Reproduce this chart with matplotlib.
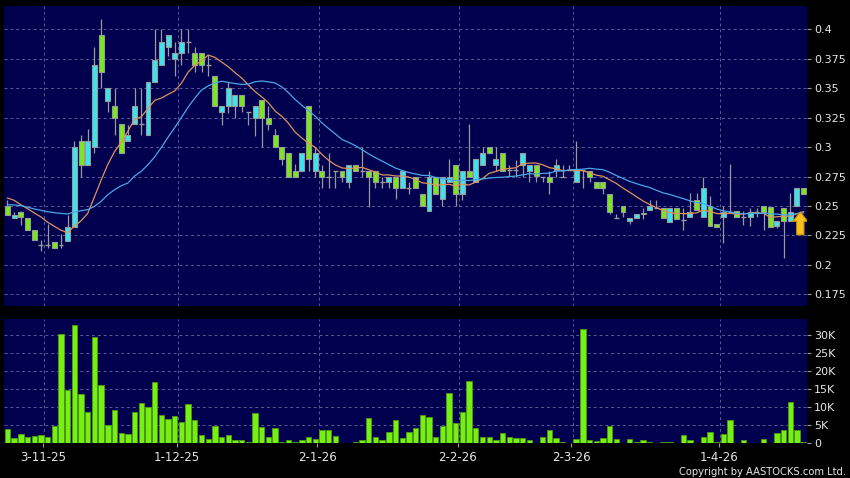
import matplotlib.pyplot as plt
import numpy as np
import pandas as pd
from matplotlib.patches import Rectangle, FancyArrow

# daily candles, oldest first (prices in HKD)
opens = [0.250, 0.240, 0.245, 0.2395, 0.230, 0.2167, 0.2172, 0.2198, 0.2172, 0.2206,
         0.232, 0.305, 0.2845, 0.300, 0.395, 0.3395, 0.3345, 0.3195, 0.3054, 0.3195,
         0.3195, 0.310, 0.355, 0.370, 0.385, 0.3745, 0.3796, 0.3895, 0.3796, 0.3796,
         0.370, 0.360, 0.3297, 0.3345, 0.3345, 0.3446, 0.3297, 0.3246, 0.340, 0.3246,
         0.310, 0.300, 0.295, 0.2794, 0.2794, 0.335, 0.2794, 0.2794, 0.2749, 0.2797,
         0.2797, 0.2704, 0.2845, 0.2797, 0.2797, 0.2797, 0.2704, 0.2704, 0.2749, 0.2655,
         0.2654, 0.2744, 0.2604, 0.2458, 0.2744, 0.2556, 0.2702, 0.2845, 0.2604, 0.2795,
         0.2702, 0.2845, 0.300, 0.2845, 0.2949, 0.2805, 0.2805, 0.2845, 0.2795, 0.2845,
         0.275, 0.2744, 0.2803, 0.275, 0.2803, 0.2704, 0.2803, 0.2794, 0.2704, 0.2704,
         0.2603, 0.240, 0.2498, 0.2371, 0.240, 0.2428, 0.247, 0.2484, 0.2484, 0.2366,
         0.2484, 0.2384, 0.2407, 0.255, 0.2407, 0.250, 0.2347, 0.2407, 0.245, 0.2456,
         0.2407, 0.2407, 0.245, 0.250, 0.2493, 0.2333, 0.2479, 0.2376, 0.2504, 0.265]
highs = [0.255, 0.245, 0.246, 0.2395, 0.230, 0.2215, 0.2347, 0.2198, 0.2265, 0.2426,
         0.3048, 0.3105, 0.315, 0.385, 0.409, 0.350, 0.350, 0.3195, 0.319, 0.350,
         0.350, 0.355, 0.400, 0.400, 0.395, 0.3895, 0.400, 0.400, 0.3847, 0.380,
         0.378, 0.360, 0.3345, 0.3556, 0.3446, 0.3446, 0.3297, 0.3345, 0.340, 0.3345,
         0.3155, 0.300, 0.295, 0.2853, 0.295, 0.335, 0.300, 0.285, 0.2953, 0.2797,
         0.2797, 0.2845, 0.2845, 0.300, 0.2797, 0.2797, 0.2749, 0.2749, 0.2749, 0.2797,
         0.270, 0.2744, 0.2604, 0.2795, 0.2744, 0.2744, 0.2899, 0.2845, 0.2795, 0.320,
         0.290, 0.300, 0.300, 0.300, 0.2949, 0.2845, 0.289, 0.2949, 0.2845, 0.2845,
         0.275, 0.2794, 0.2899, 0.2851, 0.2851, 0.3048, 0.2803, 0.2794, 0.2704, 0.2704,
         0.2603, 0.2428, 0.2498, 0.240, 0.2428, 0.2484, 0.2555, 0.2549, 0.2484, 0.2484,
         0.2484, 0.2484, 0.2613, 0.2613, 0.275, 0.2584, 0.2347, 0.250, 0.2856, 0.2456,
         0.2459, 0.2484, 0.2484, 0.250, 0.2493, 0.2376, 0.2479, 0.2607, 0.265, 0.265]
lows = [0.242, 0.240, 0.234, 0.230, 0.221, 0.2116, 0.2144, 0.2144, 0.2144, 0.2206,
        0.232, 0.2745, 0.2845, 0.295, 0.350, 0.330, 0.310, 0.295, 0.3054, 0.3195,
        0.310, 0.310, 0.355, 0.370, 0.377, 0.360, 0.370, 0.380, 0.364, 0.364,
        0.360, 0.3345, 0.319, 0.3288, 0.3246, 0.3297, 0.319, 0.3096, 0.300, 0.3147,
        0.300, 0.2845, 0.2746, 0.2746, 0.2794, 0.2794, 0.2746, 0.2653, 0.2655, 0.2655,
        0.270, 0.2655, 0.2797, 0.2749, 0.2494, 0.2655, 0.2655, 0.2655, 0.2556, 0.2655,
        0.260, 0.2654, 0.250, 0.2458, 0.2604, 0.250, 0.2702, 0.250, 0.2551, 0.2744,
        0.2702, 0.2845, 0.2949, 0.2795, 0.2795, 0.2753, 0.2749, 0.2750, 0.2702, 0.2702,
        0.270, 0.2603, 0.275, 0.275, 0.2803, 0.2704, 0.2653, 0.2704, 0.2653, 0.2603,
        0.2428, 0.240, 0.2408, 0.2343, 0.240, 0.2386, 0.247, 0.2484, 0.240, 0.2366,
        0.2386, 0.2299, 0.2407, 0.2464, 0.2407, 0.2333, 0.2321, 0.2184, 0.245, 0.2407,
        0.2339, 0.2327, 0.2407, 0.2299, 0.2321, 0.2313, 0.2056, 0.2376, 0.2504, 0.260]
closes = [0.242, 0.242, 0.241, 0.230, 0.221, 0.2167, 0.2172, 0.2144, 0.2172, 0.2318,
          0.300, 0.2845, 0.305, 0.3695, 0.364, 0.350, 0.3246, 0.295, 0.3104, 0.3345,
          0.3195, 0.355, 0.374, 0.3895, 0.395, 0.3796, 0.3895, 0.3895, 0.370, 0.370,
          0.370, 0.3345, 0.3345, 0.350, 0.3446, 0.3345, 0.3297, 0.3345, 0.3246, 0.3195,
          0.300, 0.290, 0.2746, 0.2746, 0.295, 0.290, 0.295, 0.2746, 0.2749, 0.2797,
          0.2749, 0.2845, 0.2797, 0.2797, 0.2749, 0.2704, 0.2704, 0.2749, 0.2655, 0.2797,
          0.2654, 0.2654, 0.250, 0.2744, 0.2604, 0.2744, 0.2744, 0.2604, 0.2795, 0.2744,
          0.290, 0.2949, 0.2949, 0.290, 0.2795, 0.2805, 0.2805, 0.2949, 0.2845, 0.2753,
          0.275, 0.2704, 0.2851, 0.275, 0.2803, 0.2803, 0.2803, 0.275, 0.2653, 0.2653,
          0.245, 0.240, 0.245, 0.240, 0.2428, 0.2442, 0.2498, 0.2484, 0.240, 0.2484,
          0.2386, 0.2384, 0.245, 0.2464, 0.2656, 0.2333, 0.2321, 0.245, 0.245, 0.2407,
          0.2407, 0.245, 0.245, 0.245, 0.2321, 0.2376, 0.2376, 0.245, 0.265, 0.260]
# volume in thousands of shares
volumes = [3.9, 1.3, 2.4, 1.6, 2.0, 2.3, 1.75, 4.8, 30.3, 14.6,
           32.7, 13.7, 8.7, 29.3, 16.1, 5.0, 9.2, 2.8, 2.6, 8.7,
           11.1, 10.1, 17.0, 7.8, 6.6, 7.6, 5.9, 10.9, 6.4, 2.2,
           1.1, 4.8, 1.75, 2.3, 0.8, 0.7, 0.3, 8.4, 4.4, 1.7,
           4.3, 0.4, 0.9, 0.2, 0.7, 1.75, 1.2, 3.6, 3.6, 2.0,
           0.05, 0.05, 0.2, 0.9, 7.0, 1.8, 0.8, 3.1, 6.4, 1.5,
           3.1, 4.2, 7.7, 7.2, 1.7, 4.7, 13.8, 5.5, 8.7, 17.3,
           4.1, 1.75, 1.8, 0.8, 2.8, 1.6, 1.3, 1.5, 0.9, 0.05,
           1.7, 3.7, 1.5, 0.3, 0.1, 1.1, 31.6, 0.7, 0.65, 1.4,
           4.6, 1.1, 0.05, 1.2, 0.3, 0.9, 0.4, 0.05, 0.2, 0.3,
           0.05, 2.2, 0.8, 0.05, 1.75, 3.1, 0.3, 2.4, 6.3, 0.05,
           0.7, 0.05, 0.05, 1.0, 0.05, 2.7, 3.6, 11.5, 3.7, 0.3]
# moving averages before enough closes are on the chart
ma10_head = [0.2568, 0.2548, 0.2511, 0.2477, 0.2441, 0.2407, 0.2362, 0.2328, 0.2294]
ma20_head = [0.2511, 0.2509, 0.2503, 0.2490, 0.2475, 0.2463, 0.2452, 0.2443, 0.2437, 0.2432,
             0.2449, 0.2460, 0.2469, 0.2497, 0.2540, 0.2596, 0.2638, 0.2672, 0.2695]

date_labels = ['3-11-25', '1-12-25', '2-1-26', '2-2-26', '2-3-26', '1-4-26']
date_index = [5, 25, 46, 67, 84, 106]
price_ticks = [0.175, 0.2, 0.225, 0.25, 0.275, 0.3, 0.325, 0.35, 0.375, 0.4]
price_labels = ['0.175', '0.2', '0.225', '0.25', '0.275', '0.3', '0.325', '0.35', '0.375', '0.4']
vol_ticks = [0, 5, 10, 15, 20, 25, 30]
vol_labels = ['0', '5K', '10K', '15K', '20K', '25K', '30K']

UP = '#3AE6EE'
DOWN = '#7BE81C'
EDGE = '#9A9A9A'
BG = '#00004E'
GRID = '#5A5A96'
TXT = '#E6E6E6'

n = len(closes)
x = np.arange(n)

s = pd.Series(closes)
ma10 = s.rolling(10).mean().to_numpy()
ma10[:9] = ma10_head
ma20 = s.rolling(20).mean().to_numpy()
ma20[:19] = ma20_head

fig = plt.figure(figsize=(8.5, 4.78), dpi=100, facecolor='black')
ax1 = fig.add_axes([4 / 850, 1 - 306 / 478, 803 / 850, 300 / 478])
ax2 = fig.add_axes([4 / 850, 1 - 443 / 478, 803 / 850, 124 / 478], sharex=ax1)

for ax in (ax1, ax2):
    ax.set_facecolor(BG)
    for sp in ax.spines.values():
        sp.set_visible(False)
    ax.yaxis.tick_right()
    ax.tick_params(axis='y', colors=EDGE, labelcolor=TXT, labelsize=8,
                   length=3, width=0.8, pad=2)
    ax.tick_params(axis='x', colors=EDGE, labelcolor=TXT, labelsize=8.5,
                   length=3, width=0.8, pad=3)
    ax.set_axisbelow(True)
    for d in date_index:
        ax.axvline(d + 0.5, color=GRID, lw=0.7, ls=(0, (3, 3)), zorder=0)

# candles
half = 0.37
for i in x:
    o, h, l, c = opens[i], highs[i], lows[i], closes[i]
    ax1.vlines(i, l, h, color=EDGE, lw=0.9, zorder=2)
    if abs(c - o) < 1e-6:
        ax1.hlines(c, i - half, i + half, color=EDGE, lw=1.0, zorder=3)
    else:
        col = UP if c > o else DOWN
        ax1.add_patch(Rectangle((i - half, min(o, c)), 2 * half, abs(c - o),
                                facecolor=col, edgecolor=EDGE, lw=0.8, zorder=3))

ax1.plot(x, ma10, color='#E0925E', lw=0.9, zorder=4)
ax1.plot(x, ma20, color='#4AA6E6', lw=0.9, zorder=4)

# up arrow next to the last candle
ax1.add_patch(FancyArrow(n - 1.5, 0.2255, 0, 0.0115, width=1.1, head_width=2.2,
                         head_length=0.008, length_includes_head=False,
                         facecolor='#F7C21E', edgecolor='#C98A00', lw=0.8, zorder=5))

ax1.set_ylim(0.1651, 0.4198)
ax1.set_yticks(price_ticks)
ax1.set_yticklabels(price_labels)
ax1.grid(axis='y', color=GRID, lw=0.7, ls=(0, (3, 3)))
ax1.tick_params(axis='x', which='both', length=0, labelbottom=False)

ax2.bar(x, volumes, width=0.8, color='#77EE14', edgecolor='#4C9E0C', lw=0.6, zorder=2)
ax2.set_ylim(0, 34.4)
ax2.set_yticks(vol_ticks)
ax2.set_yticklabels(vol_labels)
ax2.grid(axis='y', color=GRID, lw=0.7, ls=(0, (3, 3)))
ax2.set_xticks([d + 0.3 for d in date_index])
ax2.set_xticklabels(date_labels)
ax2.set_xlim(-0.52, 119.5)

fig.text(0.995, 0.003, 'Copyright by AASTOCKS.com Ltd.', ha='right', va='bottom',
         color=TXT, fontsize=7.2)

plt.savefig('out.png', dpi=100, facecolor='black')
